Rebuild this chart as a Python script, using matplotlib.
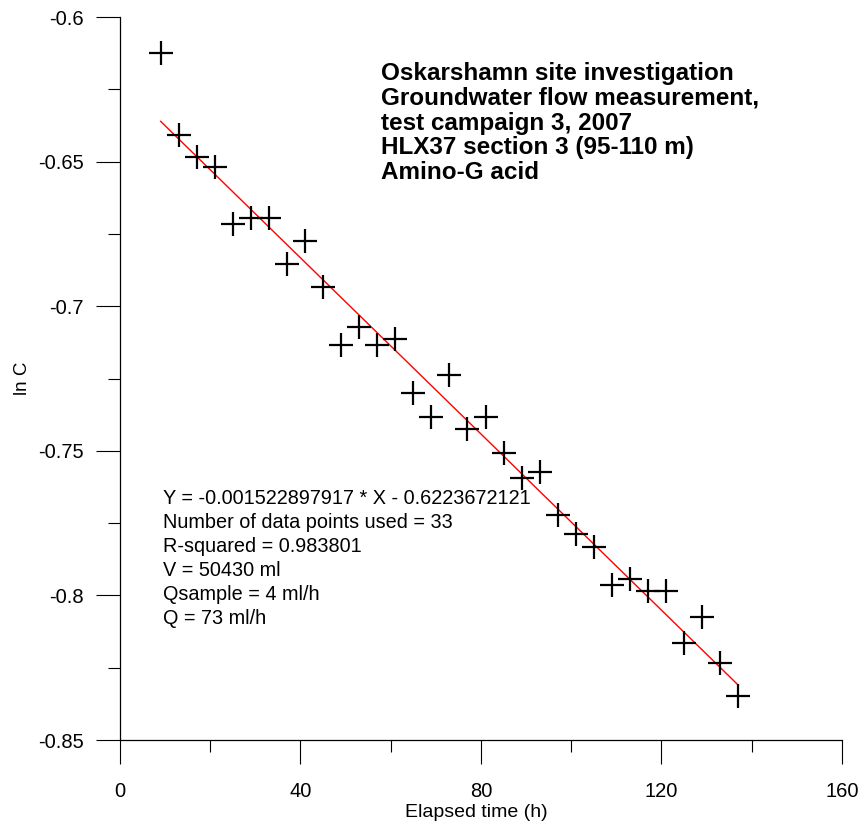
import numpy as np
import matplotlib
matplotlib.use("Agg")
import matplotlib.pyplot as plt
from matplotlib.ticker import MultipleLocator

plt.rcParams['font.family'] = ['Liberation Sans', 'DejaVu Sans']

# elapsed time (h) and ln C
elapsed_h = [9, 13, 17, 21, 25, 29, 33, 37, 41, 45, 49, 53, 57, 61, 65, 69, 73,
             77, 81, 85, 89, 93, 97, 101, 105, 109, 113, 117, 121, 125, 129, 133, 137]
ln_c = [-0.6126, -0.6407, -0.6483, -0.6520, -0.6715, -0.6694, -0.6694, -0.6853,
        -0.6774, -0.6933, -0.7135, -0.7071, -0.7135, -0.7113, -0.7299, -0.7382,
        -0.7237, -0.7423, -0.7383, -0.7509, -0.7595, -0.7572, -0.7723, -0.7788,
        -0.7832, -0.7965, -0.7942, -0.7984, -0.7986, -0.8166, -0.8075, -0.8234,
        -0.8348]

# regression reported on the chart
slope = -0.001522897917
intercept = -0.6223672121

y_ticks = [-0.85, -0.8, -0.75, -0.7, -0.65, -0.6]
y_tick_labels = ['-0.85', '-0.8', '-0.75', '-0.7', '-0.65', '-0.6']

title_lines = ["Oskarshamn site investigation",
               "Groundwater flow measurement,",
               "test campaign 3, 2007",
               "HLX37 section 3 (95-110 m)",
               "Amino-G acid"]
stats_lines = ["Y = -0.001522897917 * X - 0.6223672121",
               "Number of data points used = 33",
               "R-squared = 0.983801",
               "V = 50430 ml",
               "Qsample = 4 ml/h",
               "Q = 73 ml/h"]

fig = plt.figure(figsize=(8.62, 8.25), dpi=100)
ax = fig.add_axes([120 / 862, 85 / 825, 722 / 862, 723 / 825])

x = np.array(elapsed_h)
ax.plot(x, ln_c, linestyle='none', marker='+', markersize=17, markeredgewidth=1.6,
        color='black', zorder=3)
ax.plot([x[0], x[-1]], [slope * x[0] + intercept, slope * x[-1] + intercept],
        color='red', linewidth=1.0, zorder=2)

ax.set_xlim(0, 160)
ax.set_ylim(-0.85, -0.6)
ax.xaxis.set_major_locator(MultipleLocator(40))
ax.xaxis.set_minor_locator(MultipleLocator(20))
ax.set_yticks(y_ticks)
ax.set_yticklabels(y_tick_labels)
ax.yaxis.set_minor_locator(MultipleLocator(0.025))

for side in ['top', 'right']:
    ax.spines[side].set_visible(False)
for side in ['left', 'bottom']:
    ax.spines[side].set_linewidth(0.9)

ax.tick_params(which='major', length=17, width=0.8, labelsize=14.5, direction='out')
ax.tick_params(which='minor', length=8.5, width=0.8, direction='out')
ax.tick_params(axis='y', which='major', pad=9)
ax.tick_params(axis='x', which='major', pad=13)

ax.set_xlabel('Elapsed time (h)', fontsize=14)
ax.xaxis.set_label_coords(0.494, -0.088)
ax.set_ylabel('ln C', fontsize=13.5, labelpad=5)

fig.text(381 / 862, 1 - 62 / 825, "\n".join(title_lines), fontsize=17.5, fontweight='bold',
         va='top', ha='left', linespacing=1.1)
fig.text(163 / 862, 1 - 489 / 825, "\n".join(stats_lines), fontsize=14.3,
         va='top', ha='left', linespacing=1.34)

fig.savefig('out.png', dpi=100)
